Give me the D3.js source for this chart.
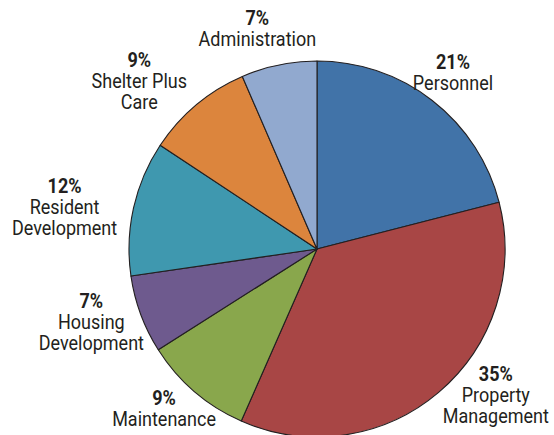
<!DOCTYPE html>
<html>
<head>
<meta charset="utf-8">
<script src="https://cdn.jsdelivr.net/npm/d3@7"></script>
<style>
  body { margin: 0; background: #fff; }
  text { font-family: Roboto, "Liberation Sans", sans-serif; fill: #231f20; }
</style>
</head>
<body>
<div class="container"></div>
<script>
const wd = 554
const ht = 435

// slice data, clockwise from 12 o'clock
const categories = ["Personnel", "Property Management", "Maintenance", "Housing Development", "Resident Development", "Shelter Plus Care", "Administration"]
const values = [21.0, 35.6, 9.4, 6.7, 11.6, 9.2, 6.5]
const pctLabels = ["21%", "35%", "9%", "7%", "12%", "9%", "7%"]
const nameLines = [["Personnel"], ["Property", "Management"], ["Maintenance"], ["Housing", "Development"], ["Resident", "Development"], ["Shelter Plus", "Care"], ["Administration"]]
const colors = ["#4173a8", "#a84645", "#89a74c", "#6e5a8e", "#3f98af", "#dc853d", "#91a9cf"]

// label nudges away from the centroid of the label ring
const nudge = [[-5, 8], [30, -27], [-3, -12], [-10, -4], [-28, 11], [-30, 11], [-13, 7]]

const cx = 317, cy = 249, r = 188
const lineH = 21

const svgC = d3.select(".container")
.append("svg")
.attr("width", wd)
.attr("height", ht)

const pie = d3.pie()
.sort(null)
.value(d => d)

const arcs = pie(values)

const arc = d3.arc().innerRadius(0).outerRadius(r)
const labelArc = d3.arc().innerRadius(230).outerRadius(230)

const g = svgC.append("g")
.attr("transform", "translate(" + cx + " " + cy + ")")

g.selectAll("path")
.data(arcs)
.enter()
.append("path")
.attr("d", arc)
.attr("fill", (d, i) => colors[i])
.attr("stroke", "#231f20")
.attr("stroke-width", 1.1)
.attr("stroke-linejoin", "round")

const labels = g.selectAll("g.lbl")
.data(arcs)
.enter()
.append("g")
.attr("class", "lbl")
.attr("transform", (d, i) => {
  const c = labelArc.centroid(d)
  // condensed look: squeeze the text horizontally
  return "translate(" + (c[0] + nudge[i][0]) + " " + (c[1] + nudge[i][1]) + ") scale(0.9 1)"
})

labels.each(function(d, i) {
  const lines = [pctLabels[i]].concat(nameLines[i])
  const top = -lines.length * lineH / 2
  d3.select(this).selectAll("text")
  .data(lines)
  .enter()
  .append("text")
  .attr("text-anchor", "middle")
  .attr("x", 0)
  .attr("y", (t, j) => top + 15 + j * lineH)
  .style("font-size", "20px")
  .style("font-weight", (t, j) => j === 0 ? "bold" : "normal")
  .text(t => t)
})
</script>
</body>
</html>
